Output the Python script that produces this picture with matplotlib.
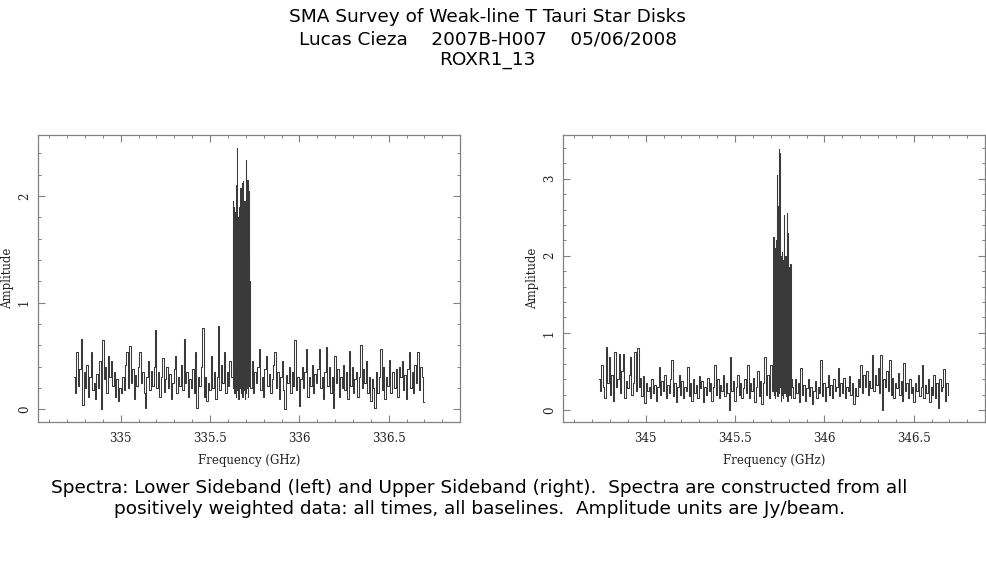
import numpy as np
import matplotlib
matplotlib.use("Agg")
import matplotlib.pyplot as plt
from matplotlib.ticker import MultipleLocator

# ---------------- data (amplitudes in Jy/beam) ----------------
lsb_noise1_range = (334.74, 335.612)
lsb_noise1 = [0.30, 0.15, 0.54, 0.22, 0.38, 0.66, 0.04, 0.35, 0.20, 0.42,
              0.12, 0.30, 0.54, 0.18, 0.25, 0.10, 0.33, 0.20, 0.45, 0.00,
              0.65, 0.28, 0.40, 0.15, 0.50, 0.30, 0.45, 0.22, 0.35, 0.12,
              0.28, 0.08, 0.20, 0.15, 0.30, 0.18, 0.42, 0.54, 0.20, 0.59,
              0.25, 0.38, 0.10, 0.32, 0.22, 0.40, 0.54, 0.25, 0.35, 0.15,
              0.01, 0.30, 0.45, 0.18, 0.36, 0.22, 0.40, 0.74, 0.20, 0.35,
              0.12, 0.30, 0.48, 0.16, 0.28, 0.40, 0.20, 0.33, 0.10, 0.25,
              0.38, 0.50, 0.15, 0.30, 0.22, 0.42, 0.18, 0.66, 0.25, 0.35,
              0.12, 0.28, 0.20, 0.38, 0.15, 0.54, 0.01, 0.30, 0.22, 0.40,
              0.76, 0.12, 0.30, 0.08, 0.25, 0.18, 0.50, 0.20, 0.35, 0.10,
              0.30, 0.78, 0.18, 0.42, 0.25, 0.54, 0.15, 0.35, 0.22, 0.45]
lsb_line_range = (335.627, 335.724)
lsb_line = [0.30, 1.95, 0.20, 1.70, 0.35, 1.90, 0.15, 1.55, 0.40, 1.85,
            0.25, 1.60, 0.12, 2.10, 0.30, 2.45, 0.18, 1.75, 0.45, 1.80,
            0.10, 1.50, 0.35, 1.90, 0.20, 1.65, 2.07, 0.15, 1.85, 0.40,
            1.70, 0.22, 2.12, 0.12, 1.60, 0.30, 2.14, 0.18, 1.75, 0.45,
            1.95, 0.10, 1.55, 0.28, 2.34, 0.15, 1.80, 0.35, 1.65, 0.20,
            2.15, 0.12, 1.90, 0.40, 1.45, 0.22, 2.05, 0.30, 1.20, 0.25]
lsb_noise2_range = (335.728, 336.696)
lsb_noise2 = [0.20, 0.45, 0.15, 0.35, 0.25, 0.40, 0.57, 0.18, 0.30, 0.12,
              0.38, 0.50, 0.22, 0.33, 0.15, 0.28, 0.42, 0.54, 0.20, 0.35,
              0.10, 0.30, 0.45, 0.18, 0.00, 0.32, 0.25, 0.40, 0.15, 0.35,
              0.22, 0.65, 0.18, 0.30, 0.03, 0.28, 0.40, 0.20, 0.35, 0.57,
              0.12, 0.30, 0.22, 0.42, 0.15, 0.33, 0.25, 0.38, 0.57, 0.20,
              0.30, 0.10, 0.35, 0.58, 0.22, 0.40, 0.15, 0.30, 0.01, 0.50,
              0.25, 0.38, 0.12, 0.30, 0.20, 0.42, 0.18, 0.35, 0.10, 0.55,
              0.22, 0.40, 0.15, 0.28, 0.35, 0.12, 0.30, 0.60, 0.20, 0.38,
              0.25, 0.45, 0.15, 0.30, 0.08, 0.28, 0.20, 0.01, 0.35, 0.15,
              0.30, 0.57, 0.18, 0.40, 0.10, 0.30, 0.22, 0.46, 0.15, 0.35,
              0.35, 0.20, 0.38, 0.12, 0.40, 0.30, 0.45, 0.18, 0.32, 0.10,
              0.38, 0.54, 0.20, 0.35, 0.15, 0.42, 0.25, 0.54, 0.18, 0.40,
              0.30, 0.07]

usb_noise1_range = (344.74, 345.708)
usb_noise1 = [0.40, 0.25, 0.58, 0.30, 0.15, 0.82, 0.35, 0.69, 0.20, 0.45,
              0.12, 0.75, 0.30, 0.40, 0.73, 0.22, 0.50, 0.72, 0.15, 0.38,
              0.28, 0.45, 0.69, 0.20, 0.35, 0.75, 0.25, 0.80, 0.30, 0.42,
              0.18, 0.44, 0.09, 0.35, 0.25, 0.30, 0.15, 0.40, 0.22, 0.33,
              0.12, 0.30, 0.56, 0.20, 0.38, 0.25, 0.45, 0.15, 0.32, 0.22,
              0.40, 0.65, 0.18, 0.35, 0.10, 0.30, 0.45, 0.20, 0.38, 0.15,
              0.30, 0.25, 0.56, 0.18, 0.35, 0.12, 0.40, 0.22, 0.33, 0.15,
              0.44, 0.28, 0.38, 0.10, 0.30, 0.20, 0.42, 0.25, 0.35, 0.12,
              0.30, 0.58, 0.20, 0.40, 0.15, 0.33, 0.25, 0.45, 0.18, 0.35,
              0.22, 0.00, 0.69, 0.25, 0.38, 0.12, 0.30, 0.45, 0.20, 0.35,
              0.15, 0.28, 0.40, 0.22, 0.58, 0.15, 0.35, 0.25, 0.42, 0.10,
              0.30, 0.50, 0.18, 0.38, 0.08, 0.35, 0.69, 0.20, 0.45, 0.15,
              0.58, 0.25]
usb_line_range = (345.714, 345.817)
usb_line = [0.35, 2.25, 0.20, 1.90, 0.45, 2.10, 0.15, 1.70, 0.30, 2.20,
            0.25, 1.80, 3.05, 0.18, 1.95, 2.64, 0.40, 2.00, 3.39, 0.22,
            1.60, 3.33, 0.30, 1.85, 0.12, 2.00, 0.35, 1.70, 0.20, 2.05,
            0.45, 1.75, 0.15, 1.95, 0.30, 2.53, 0.22, 1.80, 0.40, 2.00,
            0.18, 1.65, 0.35, 2.55, 0.25, 1.90, 0.12, 2.30, 0.30, 1.70,
            0.45, 1.85, 0.20, 1.60, 0.35, 1.90, 0.15, 1.50, 0.30, 0.40]
usb_noise2_range = (345.822, 346.694)
usb_noise2 = [0.30, 0.15, 0.40, 0.22, 0.35, 0.10, 0.55, 0.20, 0.32, 0.12,
              0.28, 0.40, 0.18, 0.30, 0.08, 0.25, 0.38, 0.15, 0.30, 0.22,
              0.65, 0.18, 0.35, 0.12, 0.30, 0.45, 0.20, 0.33, 0.15, 0.40,
              0.25, 0.30, 0.55, 0.18, 0.35, 0.22, 0.42, 0.15, 0.30, 0.25,
              0.44, 0.20, 0.35, 0.08, 0.28, 0.18, 0.40, 0.30, 0.58, 0.22,
              0.45, 0.30, 0.50, 0.20, 0.38, 0.28, 0.71, 0.25, 0.45, 0.32,
              0.55, 0.22, 0.71, 0.00, 0.40, 0.30, 0.50, 0.25, 0.65, 0.20,
              0.42, 0.15, 0.35, 0.28, 0.48, 0.20, 0.38, 0.12, 0.61, 0.25,
              0.35, 0.15, 0.40, 0.22, 0.30, 0.10, 0.35, 0.25, 0.45, 0.18,
              0.30, 0.58, 0.15, 0.32, 0.22, 0.40, 0.10, 0.30, 0.20, 0.45,
              0.15, 0.35, 0.02, 0.40, 0.25, 0.30, 0.53, 0.12, 0.35, 0.20]

title_lines = ["SMA Survey of Weak-line T Tauri Star Disks",
               "Lucas Cieza    2007B-H007    05/06/2008",
               "ROXR1_13"]
caption_lines = ["Spectra: Lower Sideband (left) and Upper Sideband (right).  Spectra are constructed from all",
                 "positively weighted data: all times, all baselines.  Amplitude units are Jy/beam."]


def build(segments):
    xs, ys = [], []
    for (lo, hi), vals in segments:
        xs.append(np.linspace(lo, hi, len(vals)))
        ys.append(np.asarray(vals, dtype=float))
    return np.concatenate(xs), np.concatenate(ys)


lsb_x, lsb_y = build([(lsb_noise1_range, lsb_noise1),
                      (lsb_line_range, lsb_line),
                      (lsb_noise2_range, lsb_noise2)])
usb_x, usb_y = build([(usb_noise1_range, usb_noise1),
                      (usb_line_range, usb_line),
                      (usb_noise2_range, usb_noise2)])

# ---------------- figure ----------------
fig = plt.figure(figsize=(9.87, 5.67), dpi=100)
frame_col = "#808080"
line_col = "#3a3a3a"
serif = "DejaVu Serif"

panels = [
    (0.0385, lsb_x, lsb_y, (334.537, 336.899), (-0.119, 2.571), 0.2),
    (0.5704, usb_x, usb_y, (344.537, 346.899), (-0.156, 3.567), 0.2),
]
for left, x, y, xl, yl, yminor in panels:
    ax = fig.add_axes([left, 0.2557, 0.4276, 0.5062])
    ax.plot(x, y, color=line_col, lw=0.75, drawstyle="steps-mid", antialiased=True)
    ax.set_xlim(*xl)
    ax.set_ylim(*yl)
    ax.xaxis.set_major_locator(MultipleLocator(0.5))
    ax.xaxis.set_minor_locator(MultipleLocator(0.1))
    ax.yaxis.set_major_locator(MultipleLocator(1))
    ax.yaxis.set_minor_locator(MultipleLocator(yminor))
    ax.xaxis.set_major_formatter(matplotlib.ticker.FuncFormatter(lambda v, p: f"{v:g}"))
    for s in ax.spines.values():
        s.set_color(frame_col)
        s.set_linewidth(0.9)
    ax.tick_params(which="both", direction="in", top=True, right=True,
                   color=frame_col, labelsize=8.5, labelcolor="#222222")
    ax.tick_params(which="major", length=5, width=0.8)
    ax.tick_params(which="minor", length=2.5, width=0.7)
    ax.tick_params(axis="x", pad=7)
    ax.tick_params(axis="y", pad=5)
    for lab in ax.get_yticklabels():
        lab.set_rotation(90)
        lab.set_va("center")
        lab.set_family(serif)
    for lab in ax.get_xticklabels():
        lab.set_family(serif)
    ax.set_xlabel("Frequency (GHz)", fontsize=8.5, family=serif, color="#222222")
    ax.xaxis.set_label_coords(0.5, -0.113)
    ax.set_ylabel("Amplitude", fontsize=8.5, family=serif, color="#222222", va="center")
    ax.yaxis.set_label_coords(-0.072, 0.5)

ys_title = [0.970, 0.931, 0.894]
for t, yy in zip(title_lines, ys_title):
    fig.text(0.494, yy, t, ha="center", va="center", fontsize=13.3, family="DejaVu Sans")

ys_cap = [0.139, 0.102]
for t, yy in zip(caption_lines, ys_cap):
    fig.text(0.486, yy, t, ha="center", va="center", fontsize=13.3, family="DejaVu Sans")

fig.savefig("out.png", dpi=100)
